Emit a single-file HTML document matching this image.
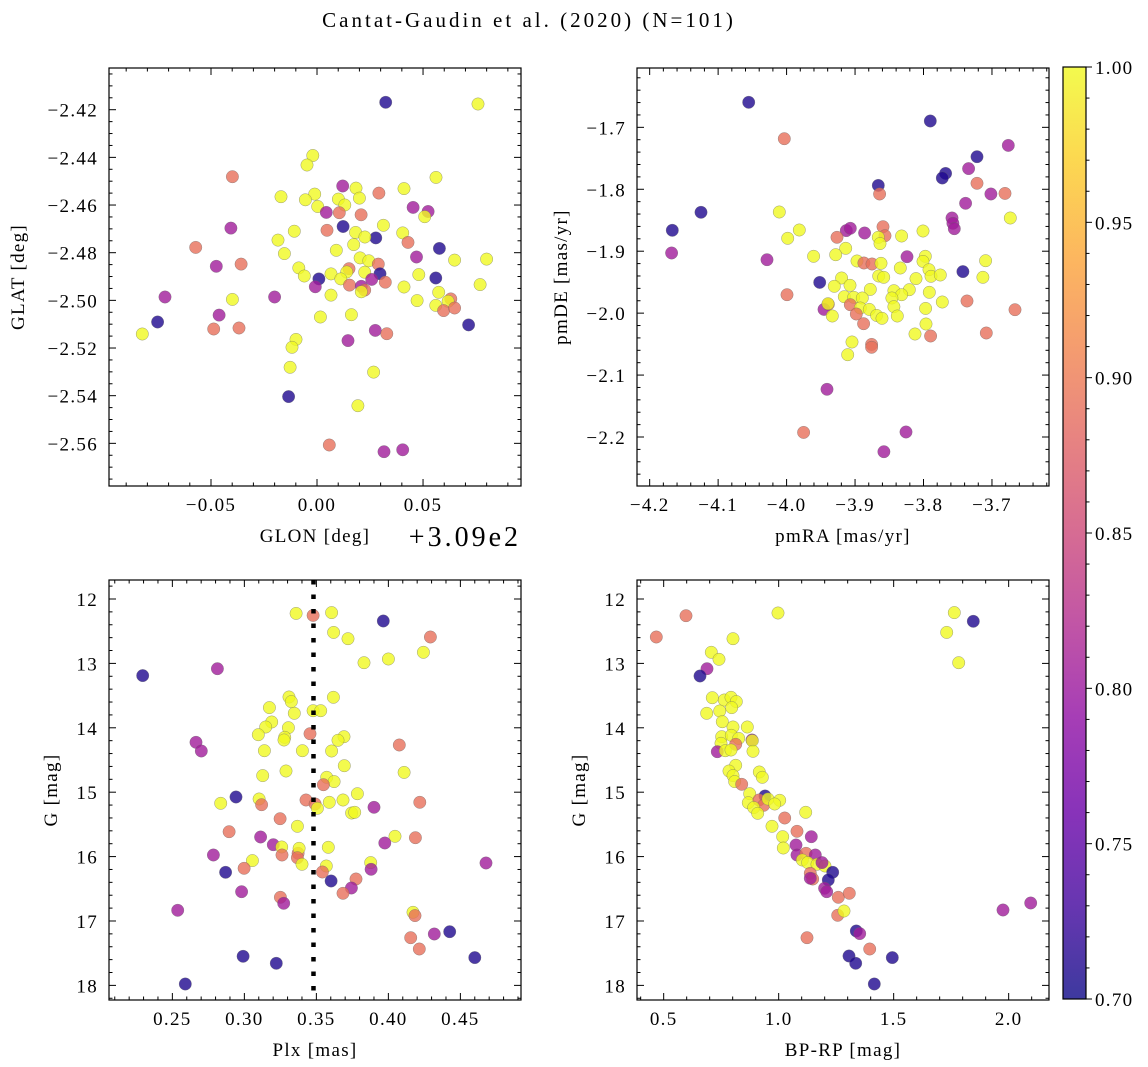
<!DOCTYPE html>
<html><head><meta charset="utf-8">
<style>
html,body{margin:0;padding:0;background:#fff;}
svg{display:block;font-family:"Liberation Serif",serif;}
</style></head>
<body>
<svg id="fig" width="1148" height="1067" viewBox="0 0 1148 1067" xmlns="http://www.w3.org/2000/svg">
<defs>
<linearGradient id="plasma" x1="0" y1="1" x2="0" y2="0">
<stop offset="0" stop-color="#0d0887"/><stop offset="0.1" stop-color="#41049d"/><stop offset="0.2" stop-color="#6a00a8"/><stop offset="0.3" stop-color="#8f0da4"/><stop offset="0.4" stop-color="#b12a90"/><stop offset="0.5" stop-color="#cc4778"/><stop offset="0.6" stop-color="#e16462"/><stop offset="0.7" stop-color="#f2844b"/><stop offset="0.8" stop-color="#fca636"/><stop offset="0.9" stop-color="#fcce25"/><stop offset="1" stop-color="#f0f921"/>
</linearGradient>
</defs>
<text x="529" y="27" font-size="21" letter-spacing="3" text-anchor="middle">Cantat-Gaudin et al. (2020) (N=101)</text>
<g id="plots"></g>
<g id="cbar"></g>
</svg>
<script>
// ---- data: panel 1 (GLON offset from 309 deg, GLAT) ----
const p1x=[0.0324,0.0759,-0.0020,-0.0047,-0.0399,0.0561,0.0121,0.0184,0.0410,0.0292,-0.0170,-0.0011,-0.0055,0.0101,0.0200,0.0131,0.0003,0.0453,0.0524,0.0508,0.0044,0.0105,0.0208,0.0123,0.0313,-0.0406,0.0047,-0.0107,0.0182,0.0404,0.0277,0.0226,0.0429,-0.0184,0.0173,-0.0572,0.0577,0.0091,-0.0154,0.0469,0.0203,0.0244,0.0649,0.0800,-0.0475,-0.0358,0.0289,-0.0086,0.0151,0.0066,0.0140,0.0225,0.0297,0.0480,-0.0060,0.0009,0.0112,0.0258,0.0560,0.0322,-0.0008,0.0153,0.0209,0.0225,0.0209,0.0410,0.0574,0.0066,-0.0717,-0.0200,-0.0399,0.0472,0.0631,0.0618,0.0769,0.0560,0.0597,0.0649,-0.0752,-0.0462,0.0016,0.0162,0.0715,-0.0824,-0.0487,-0.0368,0.0275,0.0329,-0.0099,-0.0118,0.0146,-0.0127,0.0267,-0.0134,0.0193,0.0058,0.0316,0.0404];
const p1y=[-2.4169,-2.4176,-2.4392,-2.4432,-2.4481,-2.4484,-2.4520,-2.4529,-2.4531,-2.4550,-2.4565,-2.4554,-2.4578,-2.4575,-2.4571,-2.4600,-2.4606,-2.4610,-2.4627,-2.4649,-2.4631,-2.4632,-2.4641,-2.4690,-2.4685,-2.4697,-2.4706,-2.4710,-2.4715,-2.4717,-2.4738,-2.4734,-2.4757,-2.4747,-2.4766,-2.4778,-2.4782,-2.4790,-2.4804,-2.4818,-2.4822,-2.4834,-2.4831,-2.4827,-2.4857,-2.4848,-2.4848,-2.4864,-2.4867,-2.4889,-2.4881,-2.4882,-2.4888,-2.4892,-2.4898,-2.4910,-2.4910,-2.4912,-2.4906,-2.4924,-2.4943,-2.4936,-2.4941,-2.4957,-2.4964,-2.4944,-2.4966,-2.4978,-2.4986,-2.4986,-2.4996,-2.5001,-2.4994,-2.5004,-2.4934,-2.5021,-2.5043,-2.5032,-2.5091,-2.5062,-2.5070,-2.5060,-2.5103,-2.5141,-2.5120,-2.5116,-2.5126,-2.5140,-2.5164,-2.5197,-2.5169,-2.5281,-2.5301,-2.5404,-2.5442,-2.5607,-2.5635,-2.5627];
const p1c=[0.71,1,1,1,0.89,1,0.805,1,1,0.89,1,1,1,1,1,1,1,0.805,0.805,1,0.805,0.89,0.89,0.71,1,0.805,0.89,1,1,1,0.71,1,0.89,1,1,0.89,0.71,1,1,0.805,1,1,1,1,0.805,0.89,0.89,1,0.89,1,1,1,0.71,1,1,0.71,1,0.805,0.71,0.89,0.805,0.89,0.805,0.89,1,1,1,1,0.805,0.805,1,1,0.89,1,1,1,0.89,0.89,0.71,0.805,1,1,0.71,1,0.89,0.89,0.805,0.89,1,1,0.805,1,1,0.71,1,0.89,0.805,0.805];
// ---- data: panel 2 (pmRA, pmDE) ----
const p2x=[-4.0554,-3.7901,-4.0033,-3.6762,-3.7219,-3.7677,-3.7725,-3.7341,-3.7219,-3.8660,-3.8641,-3.7015,-3.6810,-3.7385,-4.1250,-4.0106,-3.6732,-3.7584,-3.7570,-3.7550,-4.1669,-3.9814,-3.9984,-3.9128,-3.9069,-3.8860,-3.8592,-3.9264,-3.8563,-3.8660,-3.8636,-3.8320,-3.8008,-3.9137,-4.1679,-3.9605,-3.9283,-3.8241,-3.7974,-3.8008,-4.0286,-3.8972,-3.8870,-3.8753,-3.8621,-3.8339,-3.7920,-3.7093,-3.7424,-3.9517,-3.9196,-3.8655,-3.8582,-3.8110,-3.7891,-3.7755,-3.7132,-3.9303,-3.9074,-3.8777,-3.8208,-3.8432,-3.7915,-3.9994,-3.9157,-3.9020,-3.8894,-3.8320,-3.8462,-3.9069,-3.7365,-3.7725,-3.9390,-3.9454,-3.9395,-3.8923,-3.8792,-3.8432,-3.7969,-3.6664,-3.9332,-3.8982,-3.8685,-3.8607,-3.8383,-3.8875,-3.7964,-3.8125,-3.7896,-3.7083,-3.9045,-3.8758,-3.8758,-3.9108,-3.9410,-3.9751,-3.8256,-3.8578];
const p2y=[-1.6596,-1.6898,-1.7183,-1.7291,-1.7474,-1.7743,-1.7818,-1.7667,-1.7904,-1.7937,-1.8076,-1.8076,-1.8066,-1.8227,-1.8372,-1.8367,-1.8464,-1.8464,-1.8550,-1.8636,-1.8663,-1.8658,-1.8792,-1.8668,-1.8631,-1.8706,-1.8604,-1.8776,-1.8749,-1.8776,-1.8878,-1.8755,-1.8674,-1.8953,-1.9029,-1.9083,-1.9056,-1.9088,-1.9083,-1.9164,-1.9137,-1.9158,-1.9191,-1.9207,-1.9196,-1.9271,-1.9298,-1.9153,-1.9330,-1.9503,-1.9433,-1.9400,-1.9422,-1.9443,-1.9406,-1.9384,-1.9422,-1.9567,-1.9551,-1.9616,-1.9621,-1.9637,-1.9664,-1.9702,-1.9734,-1.9745,-1.9756,-1.9702,-1.9756,-1.9863,-1.9804,-1.9820,-1.9858,-1.9939,-1.9847,-1.9917,-1.9939,-1.9896,-1.9923,-1.9944,-2.0046,-2.0014,-2.0036,-2.0084,-2.0046,-2.0170,-2.0175,-2.0337,-2.0369,-2.0321,-2.0466,-2.0504,-2.0552,-2.0671,-2.1230,-2.1925,-2.1919,-2.2237];
const p2c=[0.71,0.71,0.89,0.805,0.71,0.71,0.71,0.805,0.89,0.71,0.89,0.805,0.89,0.805,0.71,1,1,0.805,0.805,0.805,0.71,1,1,0.805,0.805,0.805,0.89,0.89,0.89,1,1,1,1,1,0.805,1,1,0.805,1,1,0.805,1,0.89,0.89,1,1,1,1,0.71,0.71,1,1,1,1,1,1,1,1,1,1,1,1,1,0.89,1,1,1,1,1,0.89,0.89,1,0.89,0.805,1,1,1,1,1,0.89,1,0.89,1,1,1,0.89,1,1,0.89,0.89,1,0.89,0.89,1,0.805,0.89,0.805,0.805];
// ---- data: panel 3 (Plx, G) ----
const p3x=[0.3359,0.3477,0.3606,0.3965,0.3620,0.3720,0.4292,0.4243,0.3831,0.4000,0.2294,0.2813,0.3310,0.3326,0.3618,0.3174,0.3477,0.3530,0.3347,0.3190,0.3148,0.3306,0.3097,0.3280,0.3275,0.3456,0.3692,0.3650,0.2664,0.2701,0.3139,0.3403,0.3606,0.4076,0.3694,0.4109,0.3289,0.3127,0.3572,0.3623,0.3549,0.2942,0.3785,0.2836,0.3102,0.3120,0.3428,0.3491,0.3507,0.3590,0.3685,0.3745,0.3766,0.3900,0.4218,0.3248,0.3368,0.2894,0.3113,0.3201,0.3259,0.3261,0.3373,0.3380,0.3368,0.3583,0.4046,0.3975,0.4188,0.2785,0.3056,0.3400,0.3569,0.3542,0.3877,0.3880,0.4678,0.2870,0.2998,0.3602,0.3775,0.3743,0.3685,0.2981,0.3250,0.3273,0.2537,0.4171,0.4185,0.4319,0.4426,0.4155,0.4215,0.2991,0.3222,0.4600,0.2590];
const p3y=[12.223,12.254,12.212,12.342,12.518,12.616,12.590,12.828,12.989,12.932,13.190,13.082,13.522,13.594,13.527,13.687,13.734,13.734,13.775,13.910,13.988,13.998,14.107,14.148,14.189,14.091,14.138,14.195,14.226,14.360,14.355,14.355,14.360,14.267,14.588,14.692,14.671,14.743,14.769,14.836,14.883,15.075,15.023,15.173,15.106,15.194,15.121,15.183,15.250,15.157,15.121,15.323,15.313,15.235,15.157,15.411,15.530,15.613,15.696,15.815,15.851,15.975,15.949,15.872,16.017,15.856,15.685,15.789,15.706,15.975,16.063,16.120,16.146,16.239,16.094,16.198,16.099,16.244,16.182,16.379,16.348,16.488,16.570,16.545,16.632,16.726,16.834,16.865,16.917,17.202,17.166,17.259,17.435,17.549,17.657,17.569,17.978];
const p3c=[1,0.89,1,0.71,1,1,0.89,1,1,1,0.71,0.805,1,1,1,1,1,1,1,1,1,1,1,1,1,0.89,1,1,0.805,0.805,1,1,1,0.89,1,1,1,1,1,1,0.89,0.71,1,1,1,0.89,0.89,0.89,1,1,1,1,1,0.805,0.89,0.89,1,0.89,0.805,0.805,1,0.89,0.89,1,0.89,1,1,0.805,0.89,0.805,1,1,1,0.89,1,0.805,0.805,0.71,0.89,0.71,0.89,0.805,0.89,0.805,0.89,0.805,0.805,1,0.89,0.805,0.71,0.89,0.89,0.71,0.71,0.71,0.71];
const plxCut=[0.348];
// ---- data: panel 4 (BP-RP, G) ----
const p4x=[0.4681,0.5971,0.9971,0.8014,0.7072,0.7406,0.6884,0.6580,1.7638,1.8464,1.7304,1.7826,0.7116,0.7638,0.7928,0.8159,0.6870,0.7435,0.7957,0.7551,0.8014,0.8638,0.7522,0.7942,0.8261,0.8841,0.8855,0.8130,0.7493,0.7333,0.7681,0.7928,0.8884,0.8130,0.7841,0.8014,0.9159,0.9290,0.8087,0.8391,0.9406,0.8739,0.8681,0.9145,0.9348,0.9536,1.0043,0.9826,0.8913,0.9087,1.1174,1.0261,0.9710,1.0797,1.1420,1.0174,1.0754,1.0203,1.0797,1.1188,1.1594,1.1029,1.1261,1.1667,1.2014,1.1884,1.2348,1.1377,1.1478,1.1377,1.2159,1.1999,1.2087,1.2594,1.3072,1.2565,1.2841,1.9754,2.0957,1.3377,1.3522,1.1232,1.3957,1.3058,1.3348,1.4942,1.4159];
const p4y=[12.590,12.259,12.217,12.616,12.828,12.937,13.082,13.196,12.212,12.347,12.518,12.989,13.532,13.568,13.527,13.594,13.775,13.739,13.687,13.905,13.988,13.988,14.138,14.117,14.164,14.189,14.200,14.257,14.241,14.371,14.355,14.345,14.365,14.583,14.671,14.743,14.686,14.769,14.836,14.878,15.059,15.023,15.163,15.121,15.204,15.106,15.126,15.183,15.240,15.328,15.313,15.401,15.530,15.608,15.691,15.691,15.820,15.866,15.975,15.949,15.975,16.053,16.094,16.120,16.146,16.094,16.244,16.260,16.348,16.337,16.363,16.493,16.545,16.632,16.570,16.912,16.845,16.829,16.720,17.155,17.196,17.259,17.435,17.544,17.657,17.569,17.978];
const p4c=[0.89,0.89,1,1,1,1,0.805,0.71,1,0.71,1,1,1,1,1,1,1,1,1,1,1,1,1,1,1,0.805,1,0.89,1,0.805,1,1,1,1,1,1,1,1,1,0.89,0.71,1,1,0.89,0.89,1,1,1,1,1,1,0.89,1,0.89,0.805,1,0.805,1,0.805,0.89,0.805,1,1,1,1,0.805,0.71,0.89,0.89,0.805,0.71,0.805,0.805,0.89,0.89,0.89,1,0.805,0.805,0.71,0.805,0.89,0.89,0.71,0.71,0.71,0.71];
// ---- ticks ----
const p1xt=[-0.05,0,0.05], p1xl=['\u22120.05','0.00','0.05'];
const p1yt=[-2.42,-2.44,-2.46,-2.48,-2.50,-2.52,-2.54,-2.56], p1yl=['\u22122.42','\u22122.44','\u22122.46','\u22122.48','\u22122.50','\u22122.52','\u22122.54','\u22122.56'];
const p2xt=[-4.2,-4.1,-4.0,-3.9,-3.8,-3.7], p2xl=['\u22124.2','\u22124.1','\u22124.0','\u22123.9','\u22123.8','\u22123.7'];
const p2yt=[-1.7,-1.8,-1.9,-2.0,-2.1,-2.2], p2yl=['\u22121.7','\u22121.8','\u22121.9','\u22122.0','\u22122.1','\u22122.2'];
const p3xt=[0.25,0.30,0.35,0.40,0.45], p3xl=['0.25','0.30','0.35','0.40','0.45'];
const gyt=[12,13,14,15,16,17,18], gyl=['12','13','14','15','16','17','18'];
const p4xt=[0.5,1.0,1.5,2.0], p4xl=['0.5','1.0','1.5','2.0'];
const cbt=[0.70,0.75,0.80,0.85,0.90,0.95,1.00], cbl=['0.70','0.75','0.80','0.85','0.90','0.95','1.00'];

const NS='http://www.w3.org/2000/svg';
const FS=19, LS=1.3;
const stops=[[13,8,135],[65,4,157],[106,0,168],[143,13,164],[177,42,144],[204,71,120],[225,100,98],[242,132,75],[252,166,54],[252,206,37],[240,249,33]];
function plasma(t){t=Math.max(0,Math.min(1,t));const f=t*10,i=Math.min(9,Math.floor(f)),r=f-i;const a=stops[i],b=stops[i+1];return 'rgb('+a.map((v,k)=>Math.round(v+(b[k]-v)*r)).join(',')+')';}
function mk(tag,attrs,parent){const e=document.createElementNS(NS,tag);for(const k in attrs)e.setAttribute(k,attrs[k]);parent.appendChild(e);return e;}
const root=document.getElementById('plots');

function panel(cfg){
  const g=mk('g',{},root);
  
  
  const W=cfg.x1-cfg.x0,H=cfg.y1-cfg.y0;
  const sx=v=>cfg.x0+(v-cfg.xd[0])/(cfg.xd[1]-cfg.xd[0])*W;
  const sy=v=>cfg.y0+(v-cfg.yd[0])/(cfg.yd[1]-cfg.yd[0])*H;
  const pts=mk('g',{},g);
  
  
  for(let i=0;i<cfg.xs.length;i++){
    const c=mk('circle',{cx:sx(cfg.xs[i]).toFixed(1),cy:sy(cfg.ys[i]).toFixed(1),r:6.2,fill:plasma((cfg.cs[i]-0.7)/0.3),'fill-opacity':0.8,stroke:'#666','stroke-width':0.4,'stroke-opacity':0.8},pts);
    
    
  }
  if(cfg.vline){
    const l=mk('line',{x1:sx(cfg.vline[0]),x2:sx(cfg.vline[0]),y1:cfg.y0,y2:cfg.y1,stroke:'#000','stroke-width':4.5,'stroke-dasharray':'4.5 10'},g);
    
    
  }
  const fr=mk('rect',{x:cfg.x0,y:cfg.y0,width:W,height:H,fill:'none',stroke:'#000','stroke-width':1.2},g);
  
  
  const tk=mk('g',{stroke:'#000','stroke-width':1},g);
  const lo=Math.min(...cfg.xd),hi=Math.max(...cfg.xd);
  const ylo=Math.min(...cfg.yd),yhi=Math.max(...cfg.yd);
  function minors(a,b,step,majors){const out=[];for(let v=Math.ceil(a/step-1e-6)*step;v<=b+1e-9;v+=step){if(!majors.some(m=>Math.abs(m-v)<step*0.1))out.push(v);}return out;}
  cfg.xt.forEach((v,i)=>{const x=sx(v);mk('line',{x1:x,x2:x,y1:cfg.y1,y2:cfg.y1-7},tk);mk('line',{x1:x,x2:x,y1:cfg.y0,y2:cfg.y0+7},tk);
    const t=mk('text',{x:x,y:cfg.y1+25,'font-size':FS,'letter-spacing':LS,'text-anchor':'middle'},g);t.textContent=cfg.xl[i];
    
    });
  minors(lo,hi,cfg.xm,cfg.xt).forEach(v=>{const x=sx(v);mk('line',{x1:x,x2:x,y1:cfg.y1,y2:cfg.y1-3.5},tk);mk('line',{x1:x,x2:x,y1:cfg.y0,y2:cfg.y0+3.5},tk);});
  cfg.yt.forEach((v,i)=>{const y=sy(v);mk('line',{x1:cfg.x0,x2:cfg.x0+7,y1:y,y2:y},tk);mk('line',{x1:cfg.x1,x2:cfg.x1-7,y1:y,y2:y},tk);
    const t=mk('text',{x:cfg.x0-11,y:y+7,'font-size':FS,'letter-spacing':LS,'text-anchor':'end'},g);t.textContent=cfg.yl[i];
    
    });
  minors(ylo,yhi,cfg.ym,cfg.yt).forEach(v=>{const y=sy(v);mk('line',{x1:cfg.x0,x2:cfg.x0+3.5,y1:y,y2:y},tk);mk('line',{x1:cfg.x1,x2:cfg.x1-3.5,y1:y,y2:y},tk);});
  const xl=mk('text',{x:(cfg.x0+cfg.x1)/2,y:cfg.y1+56,'font-size':FS,'letter-spacing':LS,'text-anchor':'middle'},g);xl.textContent=cfg.xlabel;
  
  
  const yx=cfg.x0-cfg.ylo, yy=(cfg.y0+cfg.y1)/2;
  const yl=mk('text',{x:yx,y:yy,'font-size':FS,'letter-spacing':LS,'text-anchor':'middle',transform:'rotate(-90 '+yx+' '+yy+')'},g);yl.textContent=cfg.ylabel;
  
  
}
panel({name:'glon-glat-panel',x0:109,x1:521,y0:68,y1:486,xd:[-0.0981,0.0962],yd:[-2.4025,-2.5779],xs:p1x,ys:p1y,cs:p1c,xt:p1xt,xl:p1xl,xm:0.01,yt:p1yt,yl:p1yl,ym:0.005,xlabel:'GLON [deg]',ylabel:'GLAT [deg]',ylo:85});
panel({name:'pm-panel',x0:637,x1:1049,y0:68,y1:486,xd:[-4.2185,-3.6167],yd:[-1.6042,-2.2791],xs:p2x,ys:p2y,cs:p2c,xt:p2xt,xl:p2xl,xm:0.02,yt:p2yt,yl:p2yl,ym:0.02,xlabel:'pmRA [mas/yr]',ylabel:'pmDE [mas/yr]',ylo:70});
panel({name:'plx-g-panel',x0:109,x1:521,y0:580,y1:1000,xd:[0.2060,0.4921],yd:[11.705,18.227],xs:p3x,ys:p3y,cs:p3c,xt:p3xt,xl:p3xl,xm:0.01,yt:gyt,yl:gyl,ym:0.2,xlabel:'Plx [mas]',ylabel:'G [mag]',ylo:52,vline:plxCut});
panel({name:'cmd-panel',x0:637,x1:1049,y0:580,y1:1000,xd:[0.384,2.1754],yd:[11.705,18.227],xs:p4x,ys:p4y,cs:p4c,xt:p4xt,xl:p4xl,xm:0.1,yt:gyt,yl:gyl,ym:0.2,xlabel:'BP-RP [mag]',ylabel:'G [mag]',ylo:52});
const off=mk('text',{x:521,y:546,'font-size':28,'letter-spacing':3,'text-anchor':'end'},root);off.textContent='+3.09e2';


// colorbar
const cb=document.getElementById('cbar');
const cy0=67,cy1=999,cx0=1063,cx1=1086;
mk('rect',{x:cx0,y:cy0,width:cx1-cx0,height:cy1-cy0,fill:'url(#plasma)','fill-opacity':0.8},cb);
mk('rect',{x:cx0,y:cy0,width:cx1-cx0,height:cy1-cy0,fill:'none',stroke:'#000','stroke-width':1.2},cb);
const cs=v=>cy1-(v-0.7)/0.3*(cy1-cy0);
cbt.forEach((v,i)=>{const y=cs(v);mk('line',{x1:cx1,x2:cx1+6,y1:y,y2:y,stroke:'#000'},cb);
  const t=mk('text',{x:cx1+9,y:y+7,'font-size':FS,'letter-spacing':LS},cb);t.textContent=cbl[i];
  
  });
for(let v=0.71;v<1.0;v+=0.01){if(Math.abs(v*20-Math.round(v*20))<0.05)continue;const y=cs(v);mk('line',{x1:cx1,x2:cx1+3.5,y1:y,y2:y,stroke:'#000'},cb);}
</script>
</body></html>
